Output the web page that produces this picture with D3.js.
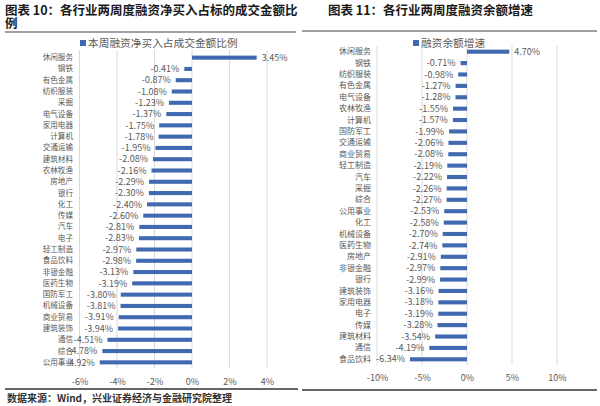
<!DOCTYPE html>
<html><head><meta charset="utf-8">
<script src="https://cdn.jsdelivr.net/npm/d3@7"></script>
<style>body{margin:0;background:#fff}svg{display:block}</style>
</head><body>
<script>
const leftCategories = ["休闲服务","钢铁","有色金属","纺织服装","采掘","电气设备","家用电器","计算机","交通运输","建筑材料","农林牧渔","房地产","银行","化工","传媒","汽车","电子","轻工制造","食品饮料","非银金融","医药生物","国防军工","机械设备","商业贸易","建筑装饰","通信","综合","公用事业"];
const leftValues = [3.45,-0.41,-0.87,-1.08,-1.23,-1.37,-1.75,-1.78,-1.95,-2.08,-2.16,-2.29,-2.30,-2.40,-2.60,-2.81,-2.83,-2.97,-2.98,-3.13,-3.19,-3.80,-3.81,-3.91,-3.94,-4.51,-4.78,-4.92];
const leftTicks = [-6,-4,-2,0,2,4];
const leftTitle1 = "图表 10：各行业两周度融资净买入占标的成交金额比";
const leftTitle2 = "例";
const leftLegend = "本周融资净买入占成交金额比例";

const rightCategories = ["休闲服务","钢铁","纺织服装","有色金属","电气设备","农林牧渔","计算机","国防军工","交通运输","商业贸易","轻工制造","汽车","采掘","综合","公用事业","化工","机械设备","医药生物","房地产","非银金融","银行","建筑装饰","家用电器","电子","传媒","建筑材料","通信","食品饮料"];
const rightValues = [4.70,-0.71,-0.98,-1.27,-1.28,-1.55,-1.57,-1.99,-2.06,-2.08,-2.19,-2.22,-2.26,-2.27,-2.53,-2.58,-2.70,-2.74,-2.91,-2.97,-2.99,-3.16,-3.18,-3.19,-3.28,-3.54,-4.19,-6.34];
const rightTicks = [-10,-5,0,5,10];
const rightTitle = "图表 11：各行业两周度融资余额增速";
const rightLegend = "融资余额增速";

const source = "数据来源：Wind，兴业证券经济与金融研究院整理";

const W = 600, H = 406;
const barColor = "#4169b0";
const textColor = "#595959";
const gridColor = "#d9d9d9";
const font = "'Noto Sans CJK SC', 'Noto Sans', sans-serif";

const svg = d3.select("body").append("svg").attr("width", W).attr("height", H)
  .style("font-family", font);

// Titles
svg.append("text").attr("x", 5).attr("y", 14.5).attr("font-size", 12.5).attr("font-weight", "bold")
  .attr("fill", "#1a1a1a").text(leftTitle1);
svg.append("text").attr("x", 5).attr("y", 28).attr("font-size", 12.5).attr("font-weight", "bold")
  .attr("fill", "#1a1a1a").text(leftTitle2);
svg.append("text").attr("x", 328).attr("y", 14.5).attr("font-size", 12.5).attr("font-weight", "bold")
  .attr("fill", "#1a1a1a").text(rightTitle);

// Separator lines
svg.append("line").attr("x1", 5).attr("x2", 296).attr("y1", 32).attr("y2", 32).attr("stroke", "#444").attr("stroke-width", 1.2);
svg.append("line").attr("x1", 302).attr("x2", 597).attr("y1", 31).attr("y2", 31).attr("stroke", "#444").attr("stroke-width", 1.2);
svg.append("line").attr("x1", 5).attr("x2", 298).attr("y1", 389).attr("y2", 389).attr("stroke", "#333").attr("stroke-width", 1.5);
svg.append("line").attr("x1", 302).attr("x2", 597).attr("y1", 390).attr("y2", 390).attr("stroke", "#333").attr("stroke-width", 1.5);

svg.append("text").attr("x", 7).attr("y", 402).attr("font-size", 10).attr("font-weight", "bold")
  .attr("fill", "#333").text(source);

function drawChart(cfg) {
  const g = svg.append("g");
  const x = d3.scaleLinear().domain(cfg.domain).range(cfg.xr);
  const y = d3.scaleBand().domain(cfg.cats).range(cfg.yr).paddingInner(0.64).paddingOuter(0.32);

  // gridlines
  g.selectAll(".grid").data(cfg.ticks).join("line")
    .attr("x1", d => x(d)).attr("x2", d => x(d))
    .attr("y1", cfg.gridTop).attr("y2", cfg.yr[1])
    .attr("stroke", gridColor).attr("stroke-width", 1);

  // x axis labels
  const ax = d3.axisBottom(x).tickValues(cfg.ticks).tickSize(0).tickFormat(d => d + "%");
  const axg = g.append("g").attr("transform", `translate(0,${cfg.tickY})`).call(ax);
  axg.select(".domain").remove();
  axg.selectAll("text").attr("font-size", 9).attr("fill", textColor).attr("font-family", font).attr("dy", "0.32em").attr("y", 0);

  // category axis
  const ay = d3.axisLeft(y).tickSize(0);
  const ayg = g.append("g").attr("transform", `translate(${cfg.catX},0)`).call(ay);
  ayg.select(".domain").remove();
  ayg.selectAll("text").attr("font-size", cfg.catFont).attr("fill", textColor).attr("font-family", font).attr("x", 0);

  const data = cfg.cats.map((c, i) => ({c, v: cfg.vals[i]}));
  g.selectAll(".bar").data(data).join("rect")
    .attr("x", d => Math.min(x(0), x(d.v)))
    .attr("width", d => Math.abs(x(d.v) - x(0)))
    .attr("y", d => y(d.c))
    .attr("height", y.bandwidth())
    .attr("fill", barColor);

  g.selectAll(".lbl").data(data).join("text")
    .attr("x", d => d.v < 0 ? x(d.v) - cfg.gap : x(d.v) + cfg.gap)
    .attr("y", d => y(d.c) + y.bandwidth() / 2)
    .attr("dy", "0.35em")
    .attr("text-anchor", d => d.v < 0 ? "end" : "start")
    .attr("font-size", 9).attr("fill", textColor)
    .text(d => d.v.toFixed(2) + "%");

  // legend
  const lg = g.append("g");
  lg.append("rect").attr("x", cfg.legX).attr("y", cfg.legY - 3).attr("width", 6).attr("height", 6).attr("fill", barColor);
  lg.append("text").attr("x", cfg.legX + 8).attr("y", cfg.legY).attr("dy", "0.35em")
    .attr("font-size", 10.7).attr("fill", textColor).text(cfg.legend);
}

drawChart({
  cats: leftCategories, vals: leftValues, ticks: leftTicks,
  domain: [-6, 4], xr: [79.5, 267], yr: [52, 368], gridTop: 50,
  tickY: 382, catX: 73, catFont: 7.6, gap: 5,
  legX: 80, legY: 43, legend: leftLegend
});

drawChart({
  cats: rightCategories, vals: rightValues, ticks: rightTicks,
  domain: [-10, 10], xr: [377, 557], yr: [46, 365], gridTop: 46,
  tickY: 378, catX: 371, catFont: 8, gap: 5,
  legX: 413, legY: 43, legend: rightLegend
});
</script>
</body></html>
